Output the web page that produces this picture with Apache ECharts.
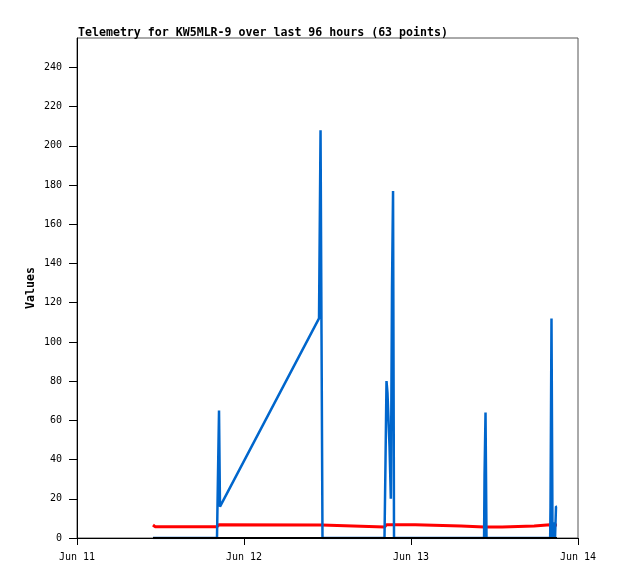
<!DOCTYPE html>
<html>
<head>
<meta charset="utf-8">
<script src="https://cdn.jsdelivr.net/npm/echarts@6/dist/echarts.min.js"></script>
<style>
  html, body { margin: 0; padding: 0; background: #fff; }
  #chart { width: 618px; height: 579px; }
</style>
</head>
<body>
<div id="chart"></div>
<script>
// hours since Jun 11 00:00
const hours = [10.92, 11.21, 20.12, 20.26, 20.41, 20.55, 34.78, 35.0, 35.14, 35.28,
  44.19, 44.34, 44.48, 44.62, 44.77, 44.91, 45.01, 45.1, 45.27, 45.42, 45.56,
  48.6, 48.72, 55.2, 55.33, 58.5, 58.57, 58.71, 58.85, 61.1, 61.22, 65.7, 65.82,
  68.0, 68.05, 68.19, 68.34, 68.55, 68.7, 68.84, 68.98]
const blueValues = [0, 0, 0, 32, 65, 16, 112, 208, 104, 0,
  0, 40, 80, 74, 60, 47, 33, 20, 128, 177, 0,
  0, 0, 0, 0, 0, 32, 64, 0, 0, 0, 0, 0,
  0, 16, 112, 0, 8, 0, 16, 16]
const redValues = [6.6, 5.8, 5.8, 6.8, 6.8, 6.8, 6.6, 6.6, 6.6, 5.6,
  5.6, 5.6, 6.8, 6.8, 6.8, 6.8, 6.8, 6.8, 6.8, 6.8, 6.8,
  6.8, 6.1, 6.1, 5.6, 5.6, 5.6, 5.6, 5.6, 5.6, 6.1, 6.1, 6.8,
  6.8, 6.8, 6.8, 6.6, 6.6, 6.6, 6.6, 6.6]
const blackValues = hours.map(() => 0)
const dayLabels = ['Jun 11', 'Jun 12', 'Jun 13', 'Jun 14']
const yTicks = [0, 20, 40, 60, 80, 100, 120, 140, 160, 180, 200, 220, 240]

const pairs = (vals) => hours.map((h, i) => [h, vals[i]])

const chart = echarts.init(document.getElementById('chart'))
const mono = 'DejaVu Sans Mono'

chart.setOption({
  animation: false,
  backgroundColor: '#fff',
  title: {
    text: 'Telemetry for KW5MLR-9 over last 96 hours (63 points)',
    left: 73, top: 22,
    textStyle: { fontFamily: mono, fontSize: 11.6, fontWeight: 'bold', color: '#000' }
  },
  grid: {
    left: 77, right: 40, top: 38, bottom: 41,
    show: true, borderColor: '#555', borderWidth: 1
  },
  xAxis: {
    type: 'value', min: 0, max: 72, interval: 24,
    axisLine: { lineStyle: { color: '#000' } },
    axisTick: { length: 7, lineStyle: { color: '#000' } },
    splitLine: { show: false },
    axisLabel: {
      margin: 14, color: '#000', fontFamily: mono, fontSize: 10,
      formatter: (v) => dayLabels[Math.round(v / 24)]
    }
  },
  yAxis: {
    type: 'value', min: 0, max: 255, interval: 20,
    name: 'Values', nameLocation: 'middle', nameRotate: 90, nameGap: 40,
    nameMoveOverlap: false,
    nameTextStyle: { fontFamily: mono, fontSize: 11.6, fontWeight: 'bold', color: '#000' },
    axisLine: { show: true, lineStyle: { color: '#000' } },
    axisTick: { show: true, length: 8, customValues: yTicks, lineStyle: { color: '#000' } },
    splitLine: { show: false },
    axisLabel: {
      margin: 15, color: '#000', fontFamily: mono, fontSize: 10,
      customValues: yTicks
    }
  },
  series: [
    {
      type: 'line', data: pairs(redValues), symbol: 'none',
      lineStyle: { color: '#ff0000', width: 3 }
    },
    {
      type: 'line', data: pairs(blueValues), symbol: 'none',
      lineStyle: { color: '#0066cc', width: 2.5 }
    },
    {
      type: 'line', data: pairs(blackValues), symbol: 'none',
      lineStyle: { color: '#000', width: 2 }
    }
  ]
})
</script>
</body>
</html>
